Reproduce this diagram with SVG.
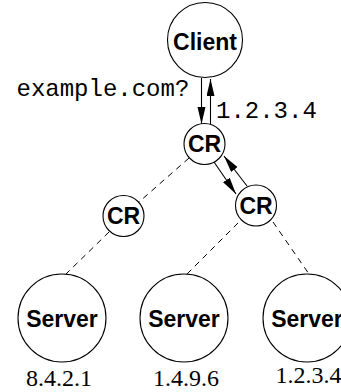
<svg xmlns="http://www.w3.org/2000/svg" width="341" height="392" viewBox="0 0 341 392">
  <style>
    .node { fill: #fff; stroke: #000; stroke-width: 1.1; }
    .name { font-family: "Liberation Sans", Arial, sans-serif; font-weight: bold; font-size: 23px; text-anchor: middle; fill: #000; }
    .mono { font-family: "Liberation Mono", "Courier New", monospace; font-size: 24px; fill: #000; }
    .addr { font-family: "Liberation Serif", "Times New Roman", serif; font-size: 24px; text-anchor: middle; fill: #000; }
    .link { stroke: #000; stroke-width: 1; fill: none; stroke-dasharray: 6 5; }
    .msg { stroke: #000; stroke-width: 1.1; fill: none; marker-end: url(#head); }
  </style>
  <defs>
    <marker id="head" markerUnits="userSpaceOnUse" markerWidth="18" markerHeight="9" refX="17" refY="4" orient="auto">
      <path d="M0,0 L17,4 L0,8 z" fill="#000"/>
    </marker>
  </defs>

  <!-- connectors -->
  <g id="connectors">
    <line class="link" x1="189" y1="158" x2="139" y2="202"/>
    <line class="link" x1="109" y1="232" x2="66" y2="274"/>
    <line class="link" x1="238" y1="223" x2="187" y2="274"/>
    <line class="link" x1="273" y1="222" x2="309" y2="274"/>
    <line class="msg" x1="201.5" y1="78" x2="201.5" y2="124"/>
    <line class="msg" x1="210.5" y1="124" x2="210.5" y2="79"/>
    <line class="msg" x1="214" y1="162" x2="236" y2="194"/>
    <line class="msg" x1="247" y1="186" x2="224" y2="156"/>
    <text class="mono" x="16.5" y="96">example.com?</text>
    <text class="mono" x="216" y="118">1.2.3.4</text>
  </g>

  <g id="client">
    <circle class="node" cx="205" cy="40" r="37.5"/>
    <text class="name" x="205" y="50">Client</text>
  </g>
  <g id="cr-top">
    <circle class="node" cx="204.5" cy="144" r="20.5"/>
    <text class="name" x="204.5" y="152">CR</text>
  </g>
  <g id="cr-left">
    <circle class="node" cx="123.5" cy="216" r="20.5"/>
    <text class="name" x="123.5" y="224">CR</text>
  </g>
  <g id="cr-right">
    <circle class="node" cx="256" cy="205.5" r="20.5"/>
    <text class="name" x="256" y="213.5">CR</text>
  </g>
  <g id="server-1">
    <circle class="node" cx="62" cy="318" r="44"/>
    <text class="name" x="62" y="327">Server</text>
    <text class="addr" x="59" y="386">8.4.2.1</text>
  </g>
  <g id="server-2">
    <circle class="node" cx="184" cy="318" r="44"/>
    <text class="name" x="184" y="327">Server</text>
    <text class="addr" x="186" y="386">1.4.9.6</text>
  </g>
  <g id="server-3">
    <circle class="node" cx="307" cy="318" r="44"/>
    <text class="name" x="307" y="327">Server</text>
    <text class="addr" x="308.5" y="383">1.2.3.4</text>
  </g>
</svg>
